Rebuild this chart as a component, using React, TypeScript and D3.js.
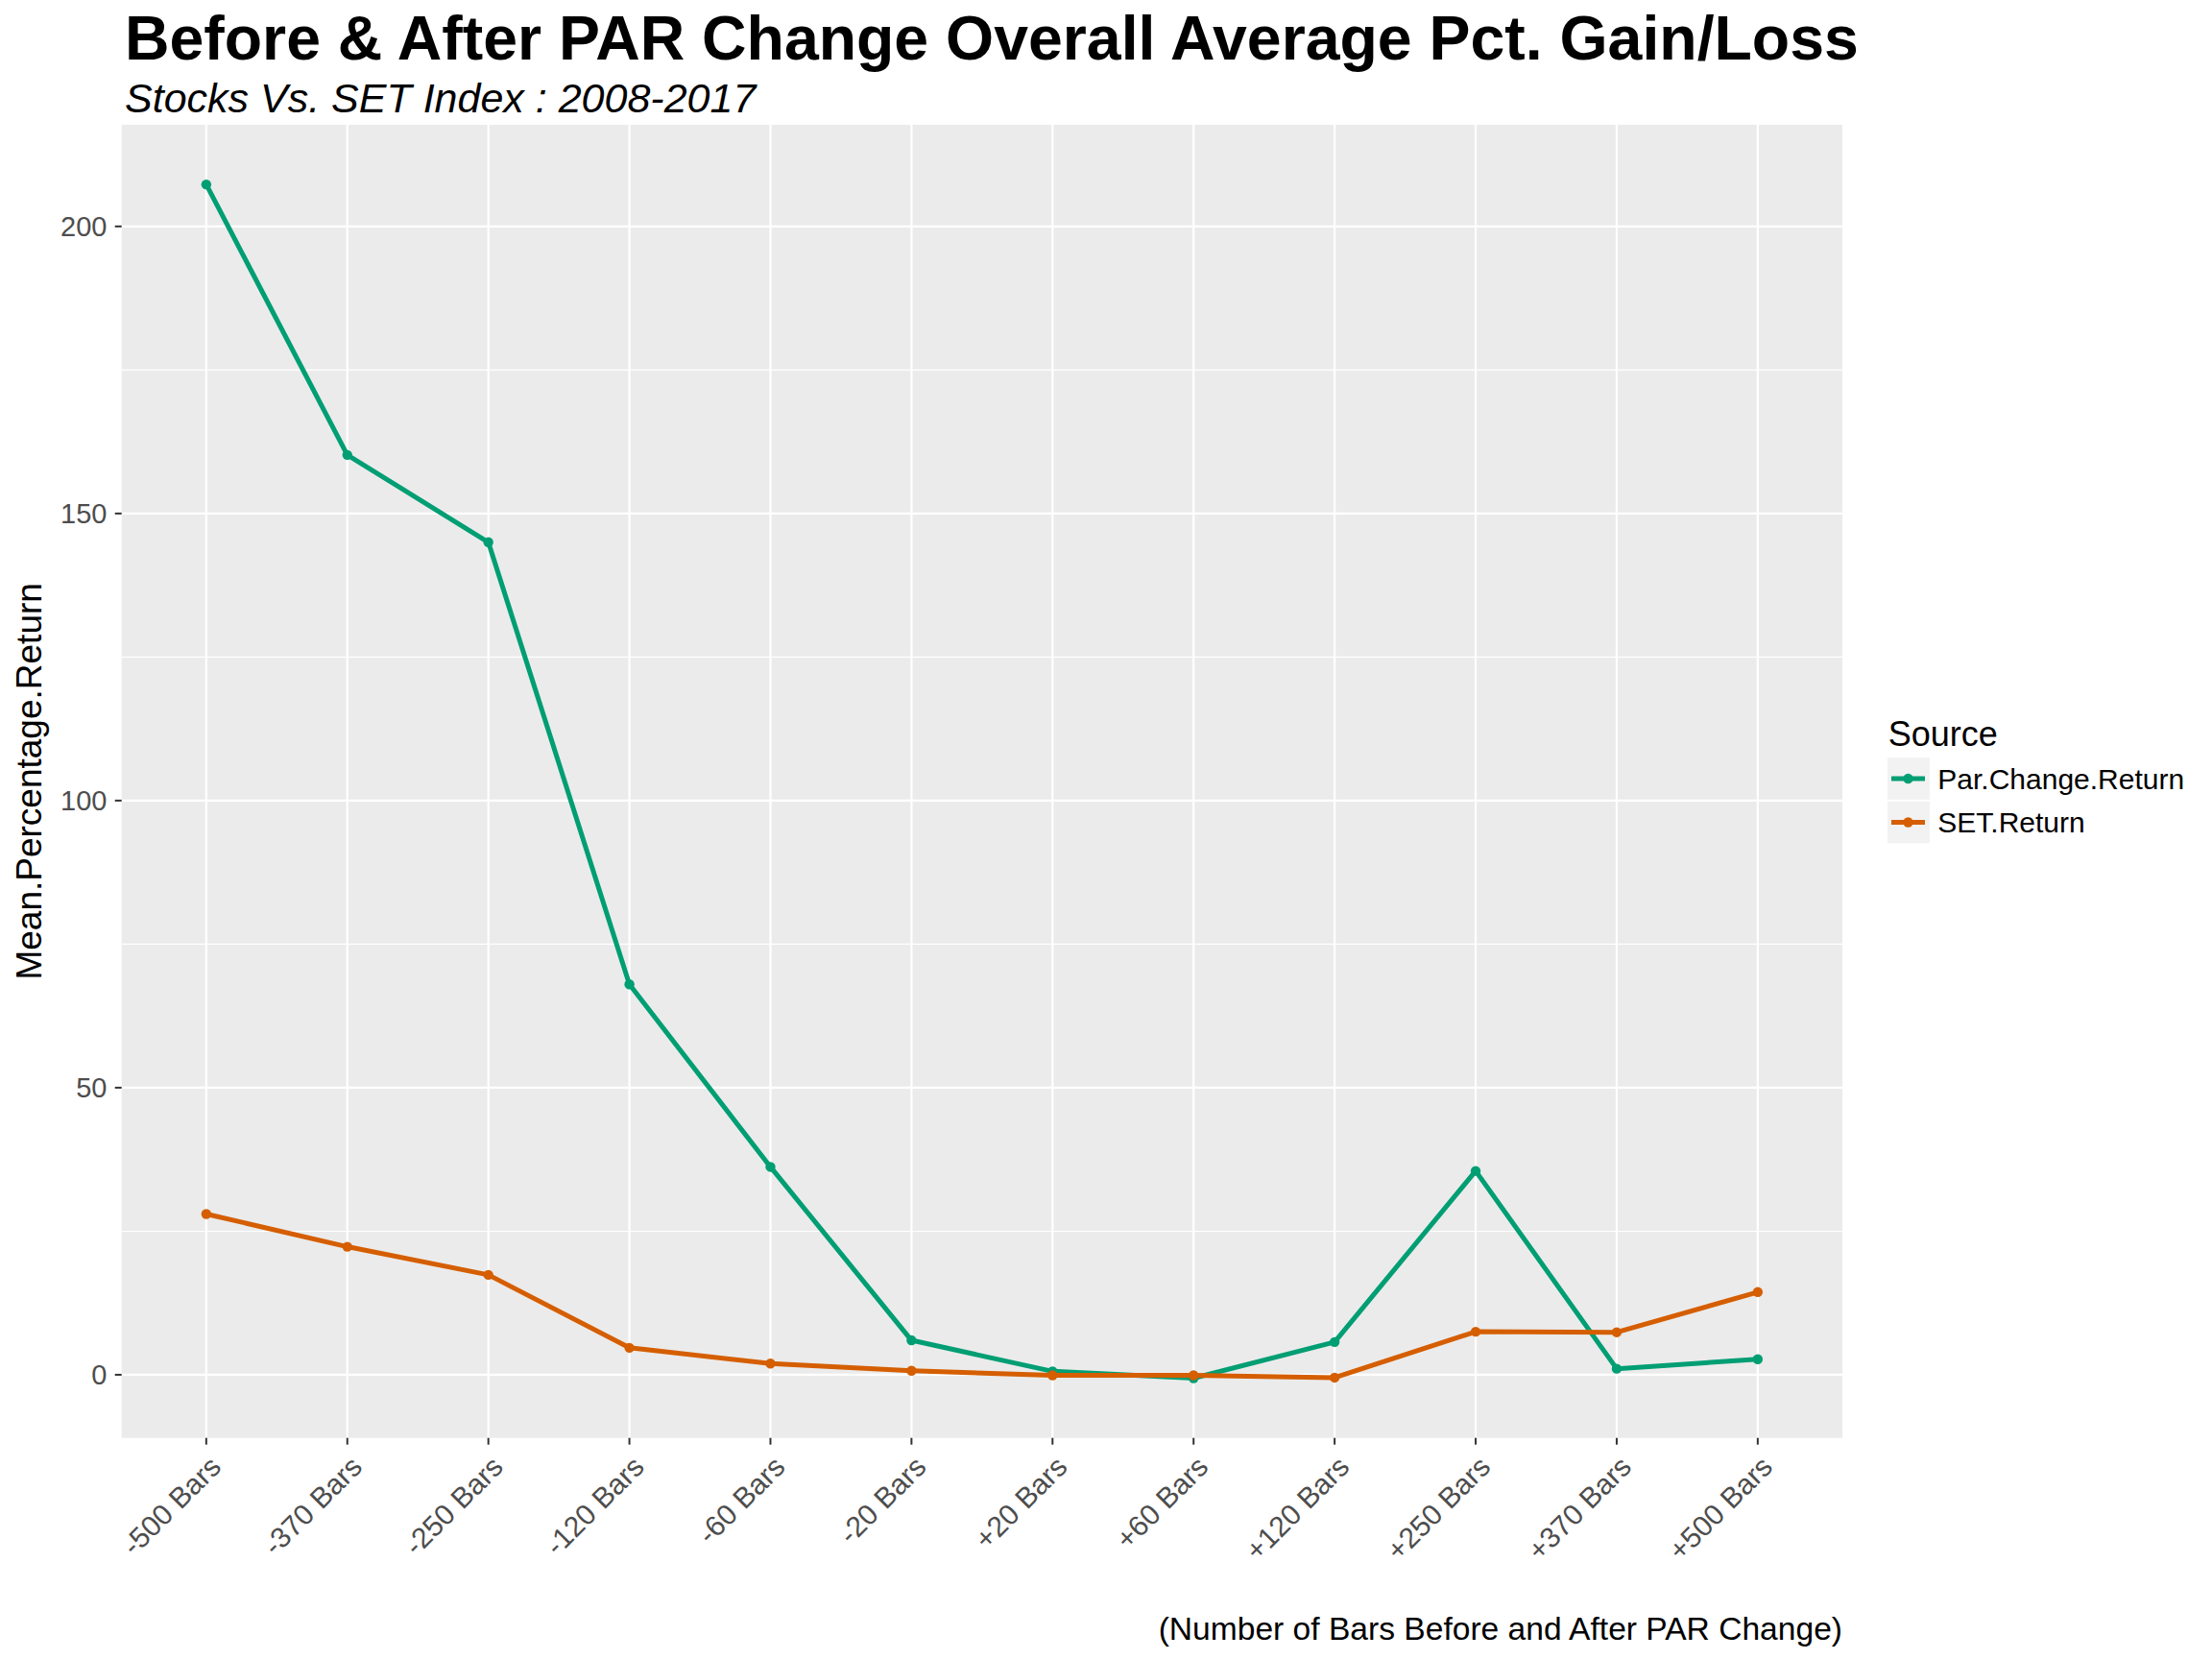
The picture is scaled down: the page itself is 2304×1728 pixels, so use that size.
import React, { useEffect } from "react";
import * as d3 from "d3";

const categories = ["-500 Bars", "-370 Bars", "-250 Bars", "-120 Bars", "-60 Bars", "-20 Bars", "+20 Bars", "+60 Bars", "+120 Bars", "+250 Bars", "+370 Bars", "+500 Bars"];
const parChangeReturn = [207.3, 160.2, 145.0, 68.0, 36.2, 6.0, 0.6, -0.6, 5.7, 35.5, 1.05, 2.7];
const setReturn = [28.0, 22.3, 17.4, 4.7, 1.95, 0.7, -0.1, -0.1, -0.5, 7.5, 7.4, 14.4];
const yTicks = [0, 50, 100, 150, 200];
const yMinorTicks = [25, 75, 125, 175];
const seriesNames = ["Par.Change.Return", "SET.Return"];
const seriesColors = ["#009E73", "#D55E00"];

const W = 2304;
const H = 1728;
const panel = { left: 126.7, right: 1919, top: 130, bottom: 1497.7 };
const FONT = "'Liberation Sans', Arial, Helvetica, sans-serif";

export default function App() {
  useEffect(() => {
    document.body.style.margin = "0";
  }, []);

  const x = d3
    .scalePoint<string>()
    .domain(categories)
    .range([panel.left, panel.right])
    .padding(0.6);

  const allVals = [...parChangeReturn, ...setReturn];
  const lo = d3.min(allVals) as number;
  const hi = d3.max(allVals) as number;
  const pad = (hi - lo) * 0.05;
  const y = d3.scaleLinear().domain([lo - pad, hi + pad]).range([panel.bottom, panel.top]);

  const series = [parChangeReturn, setReturn];
  const line = d3
    .line<number>()
    .x((_, i) => x(categories[i]) as number)
    .y((d) => y(d));

  const legendX = 1966;
  const keyW = 44;
  const keyH = 43.5;
  const keyTop = 789.3;

  return (
    <svg width={W} height={H} viewBox={`0 0 ${W} ${H}`} style={{ display: "block", fontFamily: FONT }}>
      <rect x={0} y={0} width={W} height={H} fill="#ffffff" />
      {/* title */}
      <text x={130} y={62} fontSize={64.4} fontWeight="bold" fill="#000">
        Before &amp; After PAR Change Overall Average Pct. Gain/Loss
      </text>
      <text x={130} y={117} fontSize={43} fontStyle="italic" fill="#000">
        Stocks Vs. SET Index : 2008-2017
      </text>

      {/* panel */}
      <rect x={panel.left} y={panel.top} width={panel.right - panel.left} height={panel.bottom - panel.top} fill="#EBEBEB" />
      {yMinorTicks.map((t) => (
        <line key={"mi" + t} x1={panel.left} x2={panel.right} y1={y(t)} y2={y(t)} stroke="#ffffff" strokeWidth={1.1} />
      ))}
      {yTicks.map((t) => (
        <line key={"ma" + t} x1={panel.left} x2={panel.right} y1={y(t)} y2={y(t)} stroke="#ffffff" strokeWidth={2.2} />
      ))}
      {categories.map((c) => (
        <line key={"v" + c} x1={x(c)} x2={x(c)} y1={panel.top} y2={panel.bottom} stroke="#ffffff" strokeWidth={2.2} />
      ))}

      {/* series */}
      {series.map((s, si) => (
        <g key={"s" + si}>
          <path d={line(s) || ""} fill="none" stroke={seriesColors[si]} strokeWidth={5} strokeLinejoin="round" />
          {s.map((v, i) => (
            <circle key={i} cx={x(categories[i])} cy={y(v)} r={5.2} fill={seriesColors[si]} />
          ))}
        </g>
      ))}

      {/* y axis */}
      {yTicks.map((t) => (
        <g key={"yt" + t}>
          <line x1={panel.left - 7} x2={panel.left} y1={y(t)} y2={y(t)} stroke="#333333" strokeWidth={2} />
          <text x={111.5} y={y(t)} dy="0.35em" textAnchor="end" fontSize={29} fill="#4D4D4D">
            {t}
          </text>
        </g>
      ))}

      {/* x axis */}
      {categories.map((c) => {
        const cx = x(c) as number;
        return (
          <g key={"xt" + c}>
            <line x1={cx} x2={cx} y1={panel.bottom} y2={panel.bottom + 7} stroke="#333333" strokeWidth={2} />
            <text
              transform={`translate(${cx + 17},${panel.bottom + 32}) rotate(-45)`}
              textAnchor="end"
              fontSize={30}
              fill="#4D4D4D"
            >
              {c}
            </text>
          </g>
        );
      })}

      {/* axis titles */}
      <text
        transform={`translate(43.3,${(panel.top + panel.bottom) / 2}) rotate(-90)`}
        textAnchor="middle"
        fontSize={37}
        fill="#000"
      >
        Mean.Percentage.Return
      </text>
      <text x={panel.right} y={1708.3} textAnchor="end" fontSize={33.6} fill="#000">
        (Number of Bars Before and After PAR Change)
      </text>

      {/* legend */}
      <text x={legendX + 0.7} y={776.7} fontSize={36} fill="#000">
        Source
      </text>
      {seriesNames.map((n, i) => {
        const top = keyTop + i * (keyH + 2);
        const cy = top + keyH / 2;
        return (
          <g key={"lg" + n}>
            <rect x={legendX} y={top} width={keyW} height={keyH} fill="#F2F2F2" />
            <line x1={legendX + 4} x2={legendX + keyW - 5} y1={cy} y2={cy} stroke={seriesColors[i]} strokeWidth={5} />
            <circle cx={legendX + keyW / 2 - 0.5} cy={cy} r={5.2} fill={seriesColors[i]} />
            <text x={2018.3} y={cy} dy="0.36em" fontSize={30} fill="#000">
              {n}
            </text>
          </g>
        );
      })}
    </svg>
  );
}
